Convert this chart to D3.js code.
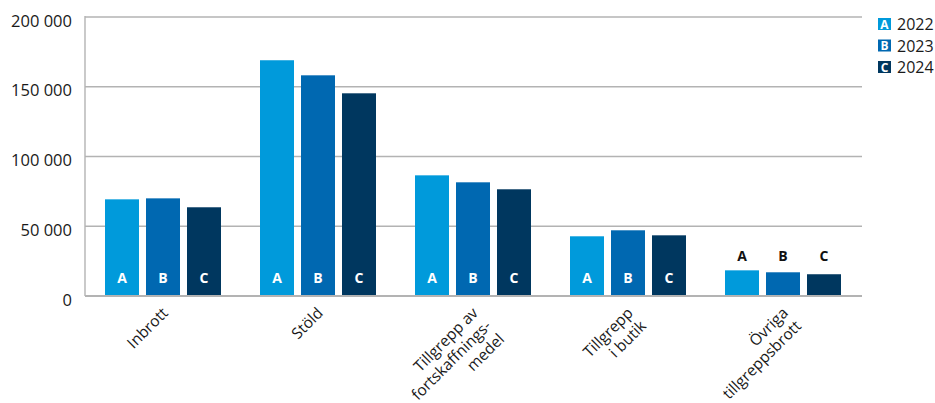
<!DOCTYPE html>
<html>
<head>
<meta charset="utf-8">
<script src="https://cdn.jsdelivr.net/npm/d3@7"></script>
<style>
  html, body { margin: 0; padding: 0; background: #fff; }
  svg { display: block; font-family: "Open Sans", "Noto Sans", sans-serif; }
</style>
</head>
<body>
<svg id="chart" width="935" height="403"></svg>
<script>
// ---- data ----
const categories = ["Inbrott", "Stöld", "Tillgrepp av fortskaffnings-medel", "Tillgrepp i butik", "Övriga tillgreppsbrott"];
const categoryLines = [["Inbrott"], ["Stöld"], ["Tillgrepp av", "fortskaffnings-", "medel"], ["Tillgrepp", "i butik"], ["Övriga", "tillgreppsbrott"]];
const seriesKeys = ["A", "B", "C"];
const seriesYears = ["2022", "2023", "2024"];
const values2022 = [69300, 169000, 86500, 42800, 18400];
const values2023 = [70000, 158200, 81500, 47100, 17000];
const values2024 = [63600, 145300, 76500, 43500, 15600];
const yTicks = [0, 50000, 100000, 150000, 200000];

const seriesValues = [values2022, values2023, values2024];
const colors = ["#009ADB", "#0068B1", "#00375F"];

// ---- layout ----
const svg = d3.select("#chart");
const plotL = 85, plotR = 860, plotT = 17, plotB = 296;

const x0 = d3.scaleBand().domain(categories).range([plotL + 0.5, plotR + 0.5]).padding(0);
const x1 = d3.scaleBand().domain(seriesKeys).range([19.5, 135.5]).paddingInner(0.1707).paddingOuter(0);
const y = d3.scaleLinear().domain([0, 200000]).range([plotB, plotT]);

const fmt = d3.formatLocale({ decimal: ",", thousands: " ", grouping: [3], currency: ["", ""] }).format(",d");

// gridlines
svg.append("g").selectAll("line").data(yTicks.filter(d => d > 0)).join("line")
  .attr("x1", plotL).attr("x2", plotR + 2)
  .attr("y1", d => y(d)).attr("y2", d => y(d))
  .attr("stroke", "#b3b3b3").attr("stroke-width", 1.4);

// y tick labels
svg.append("g").selectAll("text").data(yTicks).join("text")
  .attr("x", 72).attr("y", d => y(d) + 9.5)
  .attr("text-anchor", "end")
  .attr("font-size", 16.5).attr("fill", "#1a1a1a")
  .text(d => fmt(d));

// bars
const groups = svg.append("g").selectAll("g").data(categories).join("g")
  .attr("transform", d => `translate(${x0(d)},0)`);

groups.each(function (cat, ci) {
  const g = d3.select(this);
  const vals = seriesValues.map(s => s[ci]);
  const maxV = d3.max(vals);
  const above = maxV < 25000;
  seriesKeys.forEach((k, si) => {
    const v = vals[si];
    g.append("rect")
      .attr("x", x1(k)).attr("width", x1.bandwidth())
      .attr("y", y(v)).attr("height", y(0) - y(v))
      .attr("fill", colors[si]);
    g.append("text")
      .attr("x", x1(k) + x1.bandwidth() / 2)
      .attr("y", above ? y(maxV) - 9 : plotB - 13.5)
      .attr("text-anchor", "middle")
      .attr("font-size", 14).attr("font-weight", 700)
      .attr("fill", above ? "#111" : "#fff")
      .text(k);
  });
});

// axes lines
svg.append("line").attr("x1", plotL).attr("x2", plotL).attr("y1", plotT - 1).attr("y2", plotB)
  .attr("stroke", "#b3b3b3").attr("stroke-width", 1.4);
svg.append("line").attr("x1", plotL).attr("x2", plotR + 2).attr("y1", plotB).attr("y2", plotB)
  .attr("stroke", "#b3b3b3").attr("stroke-width", 2);

// category labels
const lineH = 18.5;
categories.forEach((cat, ci) => {
  const cx = x0(cat) + x0.bandwidth() / 2 + 6;
  const t = svg.append("text")
    .attr("transform", `translate(${cx},314) rotate(-45)`)
    .attr("text-anchor", "end")
    .attr("font-size", 15.5).attr("fill", "#1a1a1a");
  categoryLines[ci].forEach((ln, li) => {
    t.append("tspan").attr("x", 0).attr("y", li * lineH).text(ln);
  });
});

// legend
const lg = svg.append("g");
seriesKeys.forEach((k, si) => {
  const cy = 24 + si * 21.5;
  lg.append("rect").attr("x", 878).attr("y", cy - 6).attr("width", 13).attr("height", 12).attr("fill", colors[si]);
  lg.append("text").attr("x", 884.5).attr("y", cy + 4.5).attr("text-anchor", "middle")
    .attr("font-size", 12).attr("font-weight", 700).attr("fill", "#fff").text(k);
  lg.append("text").attr("x", 897).attr("y", cy + 6).attr("font-size", 16)
    .attr("fill", "#1a1a1a").text(seriesYears[si]);
});
</script>
</body>
</html>
